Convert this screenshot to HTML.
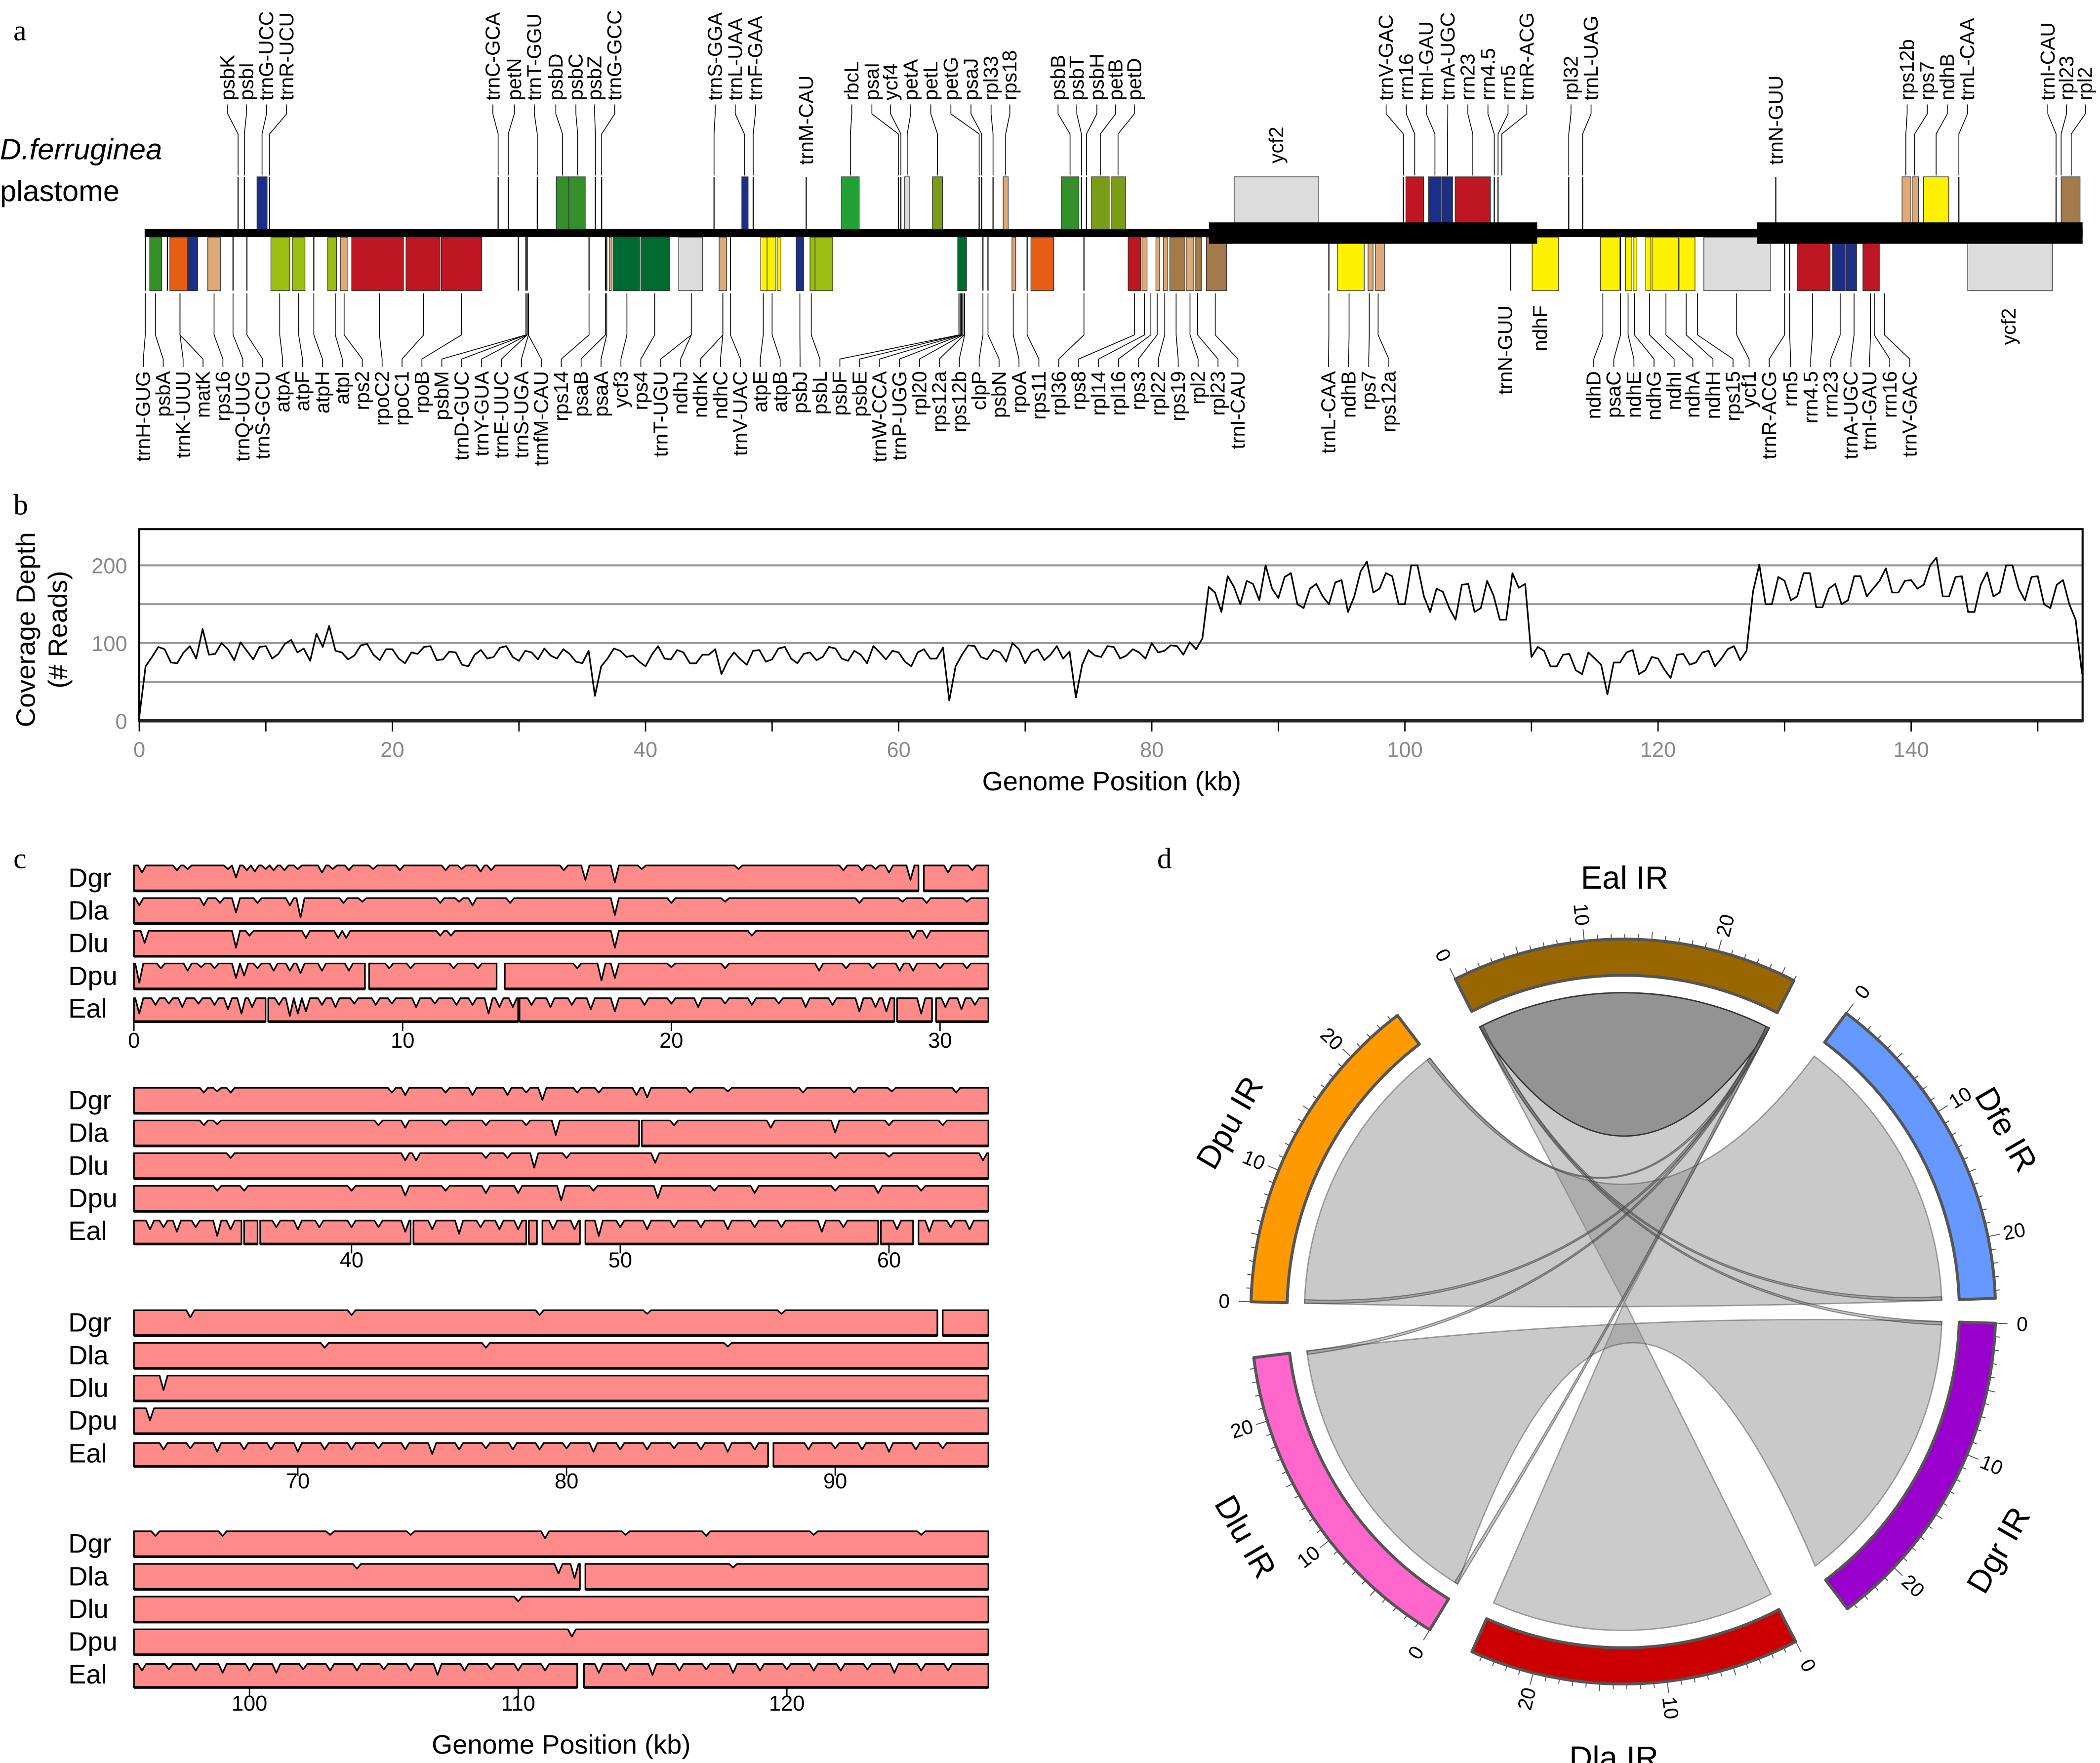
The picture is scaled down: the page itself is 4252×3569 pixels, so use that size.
<!DOCTYPE html>
<html><head><meta charset="utf-8"><title>D. ferruginea plastome figure</title>
<style>
html,body{margin:0;padding:0;background:#fff}
svg{display:block}
text{font-family:"Liberation Sans",sans-serif}
.serif{font-family:"Liberation Serif",serif}
</style></head>
<body>
<svg id="fig" xmlns="http://www.w3.org/2000/svg" width="4252" height="3569" viewBox="0 0 1568 1316" preserveAspectRatio="none">
<rect x="0" y="0" width="1568" height="1316" fill="#fff"/>
<text class="serif" x="10" y="30" font-size="22">a</text>
<text class="serif" x="10" y="384" font-size="22">b</text>
<text class="serif" x="10" y="648" font-size="22">c</text>
<text class="serif" x="864" y="648" font-size="22">d</text>
<text x="0" y="119" font-size="22" font-style="italic">D.ferruginea</text>
<text x="0" y="150" font-size="22">plastome</text>
<g id="pa"></g>
<g id="pb"></g>
<g id="pc"></g>
<g id="pd"></g>
</svg>
<script>
const NS = 'http://www.w3.org/2000/svg';
function mk(tag, attrs, parent) {
  const e = document.createElementNS(NS, tag);
  for (const k in attrs) e.setAttribute(k, attrs[k]);
  parent.appendChild(e);
  return e;
}

/* ================= PANEL A : gene map ================= */
const geneColors = {G:'#358f2a', LG:'#22a035', B:'#1b2f88', O:'#e85e14', T:'#deaa78', OL:'#9abf12', O2:'#7b9c17', R:'#be1622', DG:'#006b30', GR:'#dcdcdc', Y:'#fff200', BR:'#a57a4a'};
const genomeLenKb = 153.5;
const irRegionsKb = [[84.3, 110.3], [127.7, 153.5]];
const topGenes = [[7.4,7.4,'l'],[7.9,7.9,'l'],[8.9,9.7,'B'],[9.9,9.9,'l'],[28.0,28.0,'l'],[28.8,28.8,'l'],[31.1,31.1,'l'],[32.6,33.6,'G'],[33.6,34.9,'G'],[35.7,35.7,'l'],[36.2,36.2,'l'],[45.1,45.1,'l'],[47.3,47.8,'B'],[48.2,48.2,'l'],[52.4,52.4,'l'],[55.2,56.6,'LG'],[59.7,59.7,'l'],[59.9,59.9,'l'],[60.2,60.6,'GR'],[62.4,63.2,'O2'],[66.1,66.1,'l'],[66.3,66.3,'l'],[67.2,67.2,'l'],[68.0,68.4,'T'],[72.6,74.0,'G'],[74.2,74.2,'l'],[74.6,74.6,'l'],[75.0,76.4,'O2'],[76.6,77.7,'O2'],[86.3,93.0,'GR'],[99.7,99.7,'l'],[99.9,101.3,'R'],[101.7,102.7,'B'],[102.8,103.6,'B'],[103.8,106.6,'R'],[106.9,106.9,'l'],[107.2,107.2,'l'],[112.8,112.8,'l'],[113.9,113.9,'l'],[129.2,129.2,'l'],[139.2,139.9,'T'],[140.0,140.5,'T'],[140.9,142.9,'Y'],[143.7,143.7,'l'],[151.4,151.4,'l'],[151.8,153.3,'BR']];
const bottomGenes = [[0.05,0.05,'l'],[0.4,1.35,'G'],[1.8,1.8,'l'],[2.0,3.4,'O'],[3.45,4.2,'B'],[5.0,6.0,'T'],[7.0,7.0,'l'],[8.1,8.1,'l'],[10.0,11.5,'OL'],[11.7,12.7,'OL'],[13.4,13.4,'l'],[14.5,15.2,'OL'],[15.5,16.1,'T'],[16.4,20.5,'R'],[20.7,23.4,'R'],[23.5,26.7,'R'],[29.6,29.6,'l'],[30.2,30.2,'l'],[30.3,30.3,'l'],[35.2,35.2,'l'],[36.5,36.5,'l'],[36.6,36.6,'l'],[36.8,36.9,'T'],[37.1,39.2,'DG'],[39.3,41.6,'DG'],[42.3,44.2,'GR'],[45.5,46.1,'T'],[46.4,46.4,'l'],[48.8,49.3,'Y'],[49.3,50.0,'Y'],[50.1,50.4,'Y'],[51.6,52.2,'B'],[52.7,53.1,'OL'],[53.1,54.5,'OL'],[64.4,65.1,'DG'],[66.4,66.4,'l'],[66.8,66.8,'l'],[68.7,69.0,'T'],[69.9,69.9,'l'],[70.2,72.0,'O'],[74.4,74.4,'l'],[77.9,78.9,'R'],[79.0,79.4,'T'],[80.1,80.4,'T'],[80.7,81.0,'T'],[81.2,82.4,'BR'],[82.5,83.1,'T'],[83.2,83.7,'BR'],[84.1,85.7,'BR'],[93.8,93.8,'l'],[94.5,96.6,'Y'],[96.9,97.3,'T'],[97.5,98.2,'T'],[108.2,108.2,'l'],[109.9,112.0,'Y'],[115.3,116.8,'Y'],[116.9,116.9,'l'],[117.3,117.8,'Y'],[117.9,118.2,'Y'],[118.9,119.3,'Y'],[119.4,121.5,'Y'],[121.6,122.8,'Y'],[123.5,128.8,'GR'],[129.9,129.9,'l'],[130.3,130.3,'l'],[130.9,133.5,'R'],[133.7,134.7,'B'],[134.8,135.6,'B'],[136.1,137.4,'R'],[144.4,151.1,'GR']];
const topLabels = [['psbK',170,7.4],['psbI',184,7.9],['trnG-UCC',199,9.3],['trnR-UCU',214,9.9],['trnC-GCA',368,28.0],['petN',384,28.8],['trnT-GGU',399,31.1],['psbD',415,33.1],['psbC',430,34.3],['psbZ',444,35.7],['trnG-GCC',459,36.2],['trnS-GGA',534,45.1],['trnL-UAA',549,47.5],['trnF-GAA',564,48.2],['rbcL',636,55.9],['psaI',651,59.7],['ycf4',665,59.9],['petA',680,60.4],['petL',695,62.8],['petG',710,66.1],['psaJ',725,66.3],['rpl33',740,67.2],['rps18',754,68.2],['psbB',790,73.3],['psbT',804,74.2],['psbH',819,74.6],['petB',833,75.7],['petD',847,77.1],['trnV-GAC',1035,99.7],['rrn16',1050,100.6],['trnI-GAU',1065,102.2],['trnA-UGC',1081,103.2],['rrn23',1096,105.2],['rrn4.5',1111,106.9],['rrn5',1126,107.2],['trnR-ACG',1140,107.5],['rpl32',1173,112.8],['trnL-UAG',1188,113.9],['rps12b',1424,139.5],['rps7',1439,140.2],['ndhB',1454,141.9],['trnL-CAA',1469,143.7],['trnI-CAU',1529,151.4],['rpl23',1543,151.8],['rpl2',1557,152.6]];
const bottomNames1 = ['trnH-GUG','psbA','trnK-UUU','matK','rps16','trnQ-UUG','trnS-GCU','atpA','atpF','atpH','atpI','rps2','rpoC2','rpoC1','rpoB','psbM','trnD-GUC','trnY-GUA','trnE-UUC','trnS-UGA','trnfM-CAU','rps14','psaB','psaA','ycf3','rps4','trnT-UGU','ndhJ','ndhK','ndhC','trnV-UAC','atpE','atpB','psbJ','psbL','psbF','psbE','trnW-CCA','trnP-UGG','rpl20','rps12a','rps12b','clpP','psbN','rpoA','rps11','rpl36','rps8','rpl14','rpl16','rps3','rpl22','rps19','rpl2','rpl23','trnI-CAU'];
const bottomTargets1 = [0.05,0.85,2.8,2.8,5.5,7.0,8.1,10.7,12.2,13.4,15.1,15.8,18.6,22.1,25.1,30.2,30.2,30.3,30.3,30.4,30.4,35.2,36.5,36.6,38.2,40.4,43.3,43.3,45.8,45.8,46.4,49.0,49.7,51.9,52.8,64.5,64.5,64.6,64.7,64.8,64.9,64.95,66.4,66.8,68.8,69.9,74.4,78.4,79.2,79.7,80.2,80.8,81.7,82.8,83.4,84.8];
const bottomLabels2 = [['trnL-CAA',992,93.8],['ndhB',1007,95.4],['rps7',1022,97.0],['rps12a',1037,97.7],['ndhD',1190,115.5],['psaC',1205,116.9],['ndhE',1220,117.5],['ndhG',1235,118.0],['ndhI',1250,119.2],['ndhA',1264,120.5],['ndhH',1279,122.1],['rps15',1294,123.0],['ycf1',1306,126.1],['trnR-ACG',1321,129.9],['rrn5',1337,130.3],['rrn4.5',1352,132.1],['rrn23',1367,134.3],['trnA-UGC',1382,135.4],['trnI-GAU',1396,136.7],['rrn16',1411,137.0],['trnV-GAC',1426,137.8]];

(function(){
  const g = document.getElementById('pa');
  const gx = kb => 108 + kb * (1447 / genomeLenKb);
  const line = mk('rect', {x: gx(0), y: 171, width: gx(genomeLenKb) - gx(0), height: 6, fill: '#000'}, g);
  
  
  function drawGene(gene, y0, y1, nm) {
    const [s, e, c] = gene;
    let el;
    if (c === 'l') {
      el = mk('line', {x1: gx(s), x2: gx(s), y1: y0, y2: y1, stroke: '#000', 'stroke-width': 0.8}, g);
    } else {
      el = mk('rect', {x: gx(s), y: y0, width: Math.max(1.5, gx(e) - gx(s)), height: y1 - y0, fill: geneColors[c], stroke: '#333', 'stroke-width': 0.5}, g);
    }
    
    
  }
  topGenes.forEach(gn => drawGene(gn, 132, 171, 'gene-box-top'));
  bottomGenes.forEach(gn => drawGene(gn, 177, 217, 'gene-box-bottom'));
  irRegionsKb.forEach(r => {
    const ir = mk('rect', {x: gx(r[0]), y: 166, width: gx(r[1]) - gx(r[0]), height: 16, fill: '#000'}, g);
    
    
  });
  function label(txt, x, y, anchor, nm, fs) {
    const t = mk('text', {transform: `translate(${x + 5},${y}) rotate(-90)`, 'font-size': fs || 15, 'text-anchor': anchor}, g);
    t.textContent = txt;
    
    
  }
  topLabels.forEach(([n, lx, kb]) => {
    const tx = gx(kb);
    const pl = mk('polyline', {points: `${tx},131 ${tx},100 ${lx},85 ${lx},78`, fill: 'none', stroke: '#000', 'stroke-width': 0.6}, g);
    
    
    label(n, lx, 75, 'start', 'gene-label-top');
  });
  label('trnM-CAU', 602, 123, 'start', 'gene-label-top');
  label('ycf2', 953, 122, 'start', 'gene-label-top');
  label('trnN-GUU', 1326, 123, 'start', 'gene-label-top');
  const allBottom = bottomNames1.map((n, i) => [n, 107 + 14.86 * i, bottomTargets1[i]]).concat(bottomLabels2);
  allBottom.forEach(([n, lx, kb]) => {
    const tx = gx(kb);
    const pl = mk('polyline', {points: `${tx},219 ${tx},250 ${lx},268 ${lx},274`, fill: 'none', stroke: '#000', 'stroke-width': 0.6}, g);
    
    
    label(n, lx, 277, 'end', 'gene-label-bottom');
  });
  label('trnN-GUU', 1124, 228, 'end', 'gene-label-bottom');
  label('ndhF', 1150, 228, 'end', 'gene-label-bottom');
  label('ycf2', 1500, 230, 'end', 'gene-label-bottom');
})();

/* ================= PANEL B : coverage ================= */
const covStepKb = 0.5;
const covDepth = [
5,70,82,95,92,75,74,88,96,80,118,85,86,100,92,78,101,90,79,95,
96,80,86,99,104,88,93,77,112,95,122,90,88,79,84,97,99,85,78,92,
92,80,74,88,86,95,96,78,79,89,88,72,70,85,91,80,82,94,96,82,
77,90,88,79,93,84,80,92,86,76,74,90,32,70,80,93,90,82,84,76,
70,85,96,80,79,91,88,74,74,85,85,92,60,77,88,79,72,90,91,76,
79,93,95,80,74,86,88,78,82,95,93,80,77,90,85,74,96,88,79,90,
88,76,70,88,92,80,80,94,26,70,85,97,96,82,79,91,88,76,100,92,
74,88,92,78,85,96,80,89,30,72,91,84,82,96,95,80,84,92,88,80,
100,88,90,97,96,85,101,92,106,172,
165,140,186,172,150,180,176,155,200,170,
158,185,190,150,145,170,176,160,150,178,181,140,160,192,205,165,170,190,186,150,
150,200,200,160,140,170,166,145,130,175,176,140,145,180,161,130,130,190,171,176,
82,95,90,70,70,85,86,65,60,88,80,72,34,75,75,88,91,60,65,82,
80,66,55,85,86,72,75,88,90,70,80,92,96,78,90,166,
201,150,150,185,180,155,160,190,190,146,146,170,176,150,155,186,186,160,170,180,
196,165,165,180,181,170,175,200,210,160,160,185,186,140,140,175,191,160,165,200,
200,170,155,185,186,150,145,175,181,150,130,60];
const covXTicks = [0,20,40,60,80,100,120,140];
const covYTicks = [0,100,200];
const covGrid = [50,100,150,200];

(function(){
  const g = document.getElementById('pb');
  const X = kb => 104 + kb * 9.45;
  const Y = v => 538 - v * 0.58;
  covGrid.forEach(v => {
    const l = mk('line', {x1: 104, x2: 1555, y1: Y(v), y2: Y(v), stroke: '#999', 'stroke-width': 1.5}, g);
    
    
  });
  const fr = mk('rect', {x: 104, y: 395, width: 1451, height: 143, fill: 'none', stroke: '#000', 'stroke-width': 1.5}, g);
  
  
  const ax = mk('line', {x1: 104, x2: 1555, y1: 538, y2: 538, stroke: '#222', 'stroke-width': 2.5}, g);
  
  
  for (let k = 0; k <= 150; k += 10) {
    const t = mk('line', {x1: X(k), x2: X(k), y1: 538, y2: 546, stroke: '#000', 'stroke-width': 1}, g);
    
    
  }
  covXTicks.forEach(k => {
    const t = mk('text', {x: X(k), y: 565, 'font-size': 16, fill: '#888', 'text-anchor': 'middle'}, g);
    t.textContent = k;
    
    
  });
  covYTicks.forEach(v => {
    const t = mk('text', {x: 95, y: Y(v) + 6, 'font-size': 16, fill: '#888', 'text-anchor': 'end'}, g);
    t.textContent = v;
    
    
  });
  const pts = covDepth.map((d, i) => `${X(i * covStepKb).toFixed(1)},${Y(d).toFixed(1)}`).join(' ');
  const pl = mk('polyline', {points: pts, fill: 'none', stroke: '#000', 'stroke-width': 1.2, 'stroke-linejoin': 'round'}, g);
  
  
  const yt = mk('text', {transform: 'translate(26,470) rotate(-90)', 'font-size': 20, 'text-anchor': 'middle'}, g);
  yt.textContent = 'Coverage Depth';
  
  
  const yt2 = mk('text', {transform: 'translate(50,470) rotate(-90)', 'font-size': 20, 'text-anchor': 'middle'}, g);
  yt2.textContent = '(# Reads)';
  
  
  const xt = mk('text', {x: 830, y: 590, 'font-size': 20, 'text-anchor': 'middle'}, g);
  xt.textContent = 'Genome Position (kb)';
  
  
})();

/* ================= PANEL C : alignment ================= */
const species = ['Dgr','Dla','Dlu','Dpu','Eal'];
const subStartKb = [0, 31.9, 63.9, 95.7];
const subSpanKb = 31.8;
const subTicks = [[0,10,20,30],[40,50,60],[70,80,90],[100,110,120]];
const dipsDgr = [[0.3,0.3],[1.6,0.2],[2.0,0.15],[3.5,0.15],[3.8,0.5],[4.2,0.2],[4.5,0.25],[4.9,0.15],[5.2,0.2],[5.6,0.2],[6.1,0.15],[7.0,0.3],[7.4,0.15],[8.0,0.2],[8.9,0.15],[9.9,0.2],[11.6,0.2],[12.2,0.15],[12.9,0.25],[13.3,0.2],[16.0,0.2],[16.8,0.6],[17.9,0.7],[18.9,0.15],[22.5,0.15],[26.4,0.2],[27.1,0.2],[27.6,0.15],[28.1,0.3],[28.9,0.6],[30.3,0.3],[31.2,0.2],[34.5,0.2],[35.0,0.15],[35.5,0.2],[41.5,0.2],[42.0,0.3],[43.5,0.2],[44.5,0.3],[45.8,0.3],[46.5,0.2],[47.1,0.5],[48.4,0.2],[49.2,0.2],[50.6,0.3],[51.0,0.4],[52.6,0.2],[54.0,0.15],[56.8,0.2],[58.7,0.2],[60.1,0.15],[62.5,0.2],[66.0,0.3],[72.0,0.2],[79.0,0.2],[83.0,0.15],[88.0,0.15],[93.7,0.6],[96.5,0.2],[99.0,0.2],[103.0,0.15],[106.0,0.15],[111.0,0.3],[114.0,0.15],[117.0,0.2],[121.0,0.15],[125.0,0.15]];
const gapsDgr = [[29.2,29.4],[93.8,94.0]];
const dipsDla = [[0.2,0.3],[2.6,0.3],[3.2,0.2],[3.8,0.6],[4.6,0.2],[5.8,0.3],[6.2,0.8],[7.8,0.2],[8.5,0.15],[11.4,0.2],[12.1,0.15],[12.6,0.3],[14.0,0.2],[17.9,0.7],[20.0,0.2],[22.0,0.15],[27.0,0.2],[28.6,0.15],[29.5,0.2],[31.0,0.15],[34.5,0.2],[35.0,0.15],[41.0,0.2],[42.0,0.3],[43.5,0.2],[45.0,0.2],[46.5,0.2],[47.6,0.6],[50.7,0.3],[52.0,0.2],[55.6,0.3],[58.0,0.5],[60.0,0.2],[62.0,0.2],[71.0,0.2],[77.0,0.2],[86.0,0.15],[104.0,0.2],[111.5,0.4],[112.1,0.6],[118.0,0.15]];
const gapsDla = [[50.7,50.8],[112.3,112.5]];
const dipsDlu = [[0.4,0.5],[3.8,0.7],[4.3,0.2],[6.4,0.3],[7.6,0.3],[7.9,0.3],[11.4,0.2],[11.8,0.2],[17.9,0.7],[23.0,0.2],[29.0,0.3],[29.5,0.3],[35.5,0.2],[42.0,0.3],[42.4,0.3],[45.0,0.2],[45.8,0.2],[46.8,0.6],[48.0,0.2],[51.3,0.4],[58.0,0.2],[60.0,0.15],[63.5,0.3],[65.0,0.6],[110.0,0.2]];
const gapsDlu = [];
const dipsDpu = [[0.2,0.8],[1.0,0.2],[2.0,0.3],[2.5,0.15],[3.0,0.2],[3.8,0.6],[4.1,0.5],[4.6,0.2],[5.2,0.3],[5.8,0.3],[6.2,0.4],[7.0,0.3],[8.0,0.3],[9.5,0.2],[10.3,0.2],[11.9,0.2],[12.8,0.2],[13.9,0.3],[16.5,0.2],[17.4,0.7],[17.9,0.6],[20.0,0.15],[22.0,0.2],[25.5,0.3],[26.5,0.2],[27.5,0.2],[28.5,0.3],[29.0,0.3],[30.0,0.2],[31.0,0.2],[35.0,0.2],[36.0,0.2],[40.0,0.2],[42.0,0.4],[43.5,0.2],[45.0,0.3],[46.2,0.3],[47.8,0.6],[49.0,0.2],[51.4,0.5],[53.5,0.2],[55.0,0.3],[58.0,0.2],[59.6,0.3],[61.2,0.2],[64.5,0.5],[112.0,0.3]];
const gapsDpu = [[8.6,8.75],[13.5,13.8]];
const dipsEal = [[0.2,0.7],[0.8,0.3],[1.3,0.25],[1.8,0.4],[2.4,0.25],[3.0,0.3],[3.5,0.5],[4.0,0.7],[4.4,0.4],[5.0,0.5],[5.4,0.3],[5.8,0.8],[6.1,0.7],[6.4,0.6],[7.0,0.3],[7.5,0.4],[8.2,0.25],[9.0,0.3],[9.6,0.25],[10.5,0.4],[11.2,0.25],[12.0,0.3],[12.6,0.3],[13.2,0.7],[13.6,0.4],[14.1,0.4],[14.8,0.3],[15.5,0.4],[16.3,0.3],[17.0,0.5],[17.9,0.6],[19.0,0.3],[20.0,0.25],[21.0,0.4],[22.0,0.25],[23.0,0.3],[24.0,0.25],[25.0,0.4],[26.0,0.3],[27.0,0.6],[27.6,0.4],[28.0,0.6],[29.3,0.7],[30.2,0.4],[30.8,0.5],[31.3,0.3],[32.0,0.4],[32.5,0.4],[33.0,0.3],[33.5,0.5],[34.2,0.3],[35.0,0.7],[35.5,0.4],[36.5,0.5],[37.2,0.3],[38.0,0.4],[38.8,0.3],[40.0,0.3],[41.0,0.3],[42.0,0.5],[43.0,0.4],[44.0,0.6],[44.8,0.3],[45.5,0.4],[46.2,0.4],[47.0,0.8],[47.5,0.4],[48.3,0.4],[49.2,0.7],[50.0,0.3],[51.0,0.4],[52.0,0.3],[53.0,0.3],[54.0,0.4],[55.0,0.3],[56.0,0.3],[57.5,0.5],[58.3,0.3],[59.5,0.6],[60.3,0.4],[61.5,0.5],[62.3,0.3],[63.0,0.4],[64.0,0.3],[65.0,0.3],[66.0,0.25],[67.0,0.4],[68.0,0.3],[69.0,0.3],[70.0,0.4],[71.0,0.3],[72.0,0.3],[73.0,0.25],[74.0,0.3],[75.0,0.5],[76.0,0.3],[77.0,0.25],[78.0,0.3],[79.0,0.3],[80.0,0.25],[81.0,0.4],[82.0,0.3],[83.0,0.3],[84.0,0.25],[85.0,0.3],[86.0,0.4],[87.0,0.3],[89.0,0.3],[90.0,0.25],[91.0,0.3],[92.0,0.4],[93.0,0.3],[94.0,0.25],[96.0,0.3],[97.0,0.25],[98.0,0.3],[99.0,0.4],[100.0,0.3],[101.0,0.4],[102.0,0.25],[103.0,0.3],[104.0,0.3],[105.0,0.25],[106.0,0.3],[107.0,0.5],[108.0,0.3],[109.0,0.25],[110.0,0.3],[111.0,0.3],[113.0,0.4],[114.0,0.3],[115.0,0.5],[116.0,0.3],[117.0,0.25],[118.0,0.4],[119.0,0.3],[120.0,0.25],[121.0,0.3],[122.0,0.3],[123.0,0.25],[124.0,0.4],[125.0,0.3],[126.0,0.3]];
const gapsEal = [[4.9,5.0],[14.3,14.35],[28.3,28.4],[29.7,29.85],[35.9,36.0],[36.5,36.6],[42.2,42.3],[46.5,46.6],[46.9,47.1],[48.5,48.7],[59.6,59.7],[60.9,61.1],[87.5,87.7],[112.2,112.45]];
const dipsBySpecies = [dipsDgr, dipsDla, dipsDlu, dipsDpu, dipsEal];
const gapsBySpecies = [gapsDgr, gapsDla, gapsDlu, gapsDpu, gapsEal];

(function(){
  const g = document.getElementById('pc');
  const subTop = [645, 811, 977, 1142];
  const rowStep = 24.4, h = 20;
  const tickY = [782, 946, 1111, 1277];
  subStartKb.forEach((s, k) => {
    const e = s + subSpanKb;
    const X = kb => 100 + (kb - s) * (638 / subSpanKb);
    species.forEach((sp, r) => {
      const yt = subTop[k] + r * rowStep, yb = yt + h;
      const lab = mk('text', {x: 51, y: yt + 17, 'font-size': 20}, g);
      lab.textContent = sp;
      
      
      const gaps = gapsBySpecies[r].filter(gp => gp[1] > s && gp[0] < e).sort((a, b) => a[0] - b[0]);
      const segs = [];
      let cur = s;
      gaps.forEach(gp => { if (gp[0] > cur) segs.push([cur, gp[0]]); cur = Math.max(cur, gp[1]); });
      if (cur < e) segs.push([cur, e]);
      const base = r === 4 ? 2.5 : 1;
      segs.forEach(([a, b]) => {
        let d = `M${X(a).toFixed(1)},${yb} L${X(a).toFixed(1)},${yt + base}`;
        dipsBySpecies[r].filter(dp => dp[0] > a + 0.15 && dp[0] < b - 0.15).sort((p, q) => p[0] - q[0]).forEach(([kb, dep]) => {
          d += ` L${X(kb - 0.15).toFixed(1)},${yt + base} L${X(kb).toFixed(1)},${(yt + base + dep * (h - base - 1)).toFixed(1)} L${X(kb + 0.15).toFixed(1)},${yt + base}`;
        });
        d += ` L${X(b).toFixed(1)},${yt + base} L${X(b).toFixed(1)},${yb} Z`;
        const p = mk('path', {d: d, fill: '#ff8a8a', stroke: '#000', 'stroke-width': 1.2, 'stroke-linejoin': 'round'}, g);
        
        
        const bl = mk('line', {x1: X(a), x2: X(b), y1: yb, y2: yb, stroke: '#000', 'stroke-width': 2}, g);
        
        
      });
    });
    const lastBottom = subTop[k] + 4 * rowStep + h;
    subTicks[k].forEach(tk => {
      const tl = mk('line', {x1: X(tk), x2: X(tk), y1: lastBottom, y2: lastBottom + 7, stroke: '#000', 'stroke-width': 1}, g);
      
      
      const t = mk('text', {x: X(tk), y: tickY[k], 'font-size': 16, 'text-anchor': 'middle'}, g);
      t.textContent = tk;
      
      
    });
  });
  const xt = mk('text', {x: 419, y: 1309, 'font-size': 20, 'text-anchor': 'middle'}, g);
  xt.textContent = 'Genome Position (kb)';
  
  
})();

/* ================= PANEL D : chord diagram ================= */
const segNames = ['Eal IR','Dfe IR','Dgr IR','Dla IR','Dlu IR','Dpu IR'];
const segLenKb = [26.0, 24.6, 24.6, 24.8, 24.8, 24.6];
const segColors = ['#996600','#6699ff','#9900cc','#cc0000','#ff66cc','#ff9900'];
const segTickLabels = [0, 10, 20];
const linksLight = [[0,0,26.0,3,24.8,0],[5,0,24.6,1,0,24.6],[4,0,24.8,2,0,24.6]];
const linkSelf = [0, 0, 26.0];
const linksThin = [[0,25.7,26.0,5,0,0.3],[0,25.7,26.0,4,24.5,24.8],[0,25.7,26.0,4,0,0.3],[0,25.7,26.0,5,24.3,24.6],[0,0,0.3,1,24.3,24.6],[0,0,0.3,2,0,0.3]];

(function(){
  const g = document.getElementById('pd');
  const cx = 1212, cy = 979, R0 = 251, R1 = 278, RL = 238;
  const crossX = 1213, crossY = 972;
  const segStartDeg = [-26.8, 36.8, 91.8, 152.4, 211.3, 271.5];
  const edgeLift = [0, 0, 150];
  const degPerKb = 2.08;
  const ang = (s, kb) => segStartDeg[s] + kb * degPerKb;
  const P = (r, deg) => { const a = deg * Math.PI / 180; return [cx + r * Math.sin(a), cy - r * Math.cos(a)]; };
  const f = p => `${p[0].toFixed(2)},${p[1].toFixed(2)}`;
  function arc(r, d0, d1) {
    const sw = d1 > d0 ? 1 : 0, lg = Math.abs(d1 - d0) > 180 ? 1 : 0;
    return `A${r},${r} 0 ${lg} ${sw} ${f(P(r, d1))}`;
  }
  function ribbon(l, lift) {
    const [a, a0, a1, b, b0, b1] = l;
    const A0 = ang(a, a0), A1 = ang(a, a1), B0 = ang(b, b0), B1 = ang(b, b1);
    return `M${f(P(RL, A0))} ${arc(RL, A0, A1)} Q${cx},${cy} ${f(P(RL, B0))} ${arc(RL, B0, B1)} Q${cx},${cy - (lift || 0)} ${f(P(RL, A0))} Z`;
  }
  function wedge(s, k0, k1) {
    const A0 = ang(s, k0), A1 = ang(s, k1);
    return `M${f(P(RL, A0))} ${arc(RL, A0, A1)} L${crossX},${crossY} Z`;
  }
  segNames.forEach((nm, s) => {
    const d0 = ang(s, 0), d1 = ang(s, segLenKb[s]);
    const d = `M${f(P(R1, d0))} ${arc(R1, d0, d1)} L${f(P(R0, d1))} ${arc(R0, d1, d0)} Z`;
    const p = mk('path', {d: d, fill: segColors[s], stroke: '#555', 'stroke-width': 2.2, 'stroke-linejoin': 'round'}, g);
    
    
    for (let k = 0; k <= Math.floor(segLenKb[s]); k++) {
      const len = k % 10 === 0 ? 9 : (k % 5 === 0 ? 6 : 4);
      const t = mk('line', {x1: P(R1, ang(s, k))[0], y1: P(R1, ang(s, k))[1], x2: P(R1 + len, ang(s, k))[0], y2: P(R1 + len, ang(s, k))[1], stroke: '#555', 'stroke-width': 0.7}, g);
      
      
    }
    segTickLabels.forEach(tk => {
      if (tk > segLenKb[s]) return;
      const a = ang(s, tk);
      let rot = a + 90;
      while (rot > 180) rot -= 360;
      while (rot <= -180) rot += 360;
      if (rot > 90) rot -= 180;
      if (rot <= -90) rot += 180;
      const pp = P(R1 + 20, a);
      const t = mk('text', {transform: `translate(${pp[0].toFixed(1)},${pp[1].toFixed(1)}) rotate(${rot.toFixed(1)})`, 'font-size': 15, 'text-anchor': 'middle', 'dominant-baseline': 'central'}, g);
      t.textContent = tk;
      
      
    });
  });
  linksLight.forEach((l, i) => {
    const twisted = l[5] < l[4];
    if (twisted) {
      const p1 = mk('path', {d: wedge(l[0], l[1], l[2]), fill: '#cbcbcb', stroke: '#999', 'stroke-width': 1}, g);
      
      
      const p2 = mk('path', {d: wedge(l[3], l[5], l[4]), fill: '#cbcbcb', stroke: '#999', 'stroke-width': 1}, g);
      
      
    } else {
      const p = mk('path', {d: ribbon(l, edgeLift[i]), fill: 'rgba(140,140,140,0.47)', stroke: 'rgba(90,90,90,0.55)', 'stroke-width': 1}, g);
      
      
    }
  });
  {
    const A0 = ang(linkSelf[0], linkSelf[1]), A1 = ang(linkSelf[0], linkSelf[2]);
    const d = `M${f(P(RL, A0))} ${arc(RL, A0, A1)} Q${cx},${cy - 50} ${f(P(RL, A0))} Z`;
    const p = mk('path', {d: d, fill: 'rgba(110,110,110,0.6)', stroke: '#333', 'stroke-width': 1}, g);
    
    
  }
  linksThin.forEach(l => {
    const p = mk('path', {d: ribbon(l, 0), fill: 'rgba(90,90,90,0.35)', stroke: 'rgba(60,60,60,0.55)', 'stroke-width': 0.8}, g);
    
    
  });
  const labelPos = [[1213,655,0],[1498,843,60],[1492,1157,-60],[1205,1312,0],[930,1147,60],[918,838,-60]];
  segNames.forEach((nm, s) => {
    const [x, y, r] = labelPos[s];
    const t = mk('text', {transform: `translate(${x},${y}) rotate(${r})`, 'font-size': 24, 'text-anchor': 'middle', 'dominant-baseline': 'central'}, g);
    t.textContent = nm;
    
    
  });
})();
</script>
</body></html>
